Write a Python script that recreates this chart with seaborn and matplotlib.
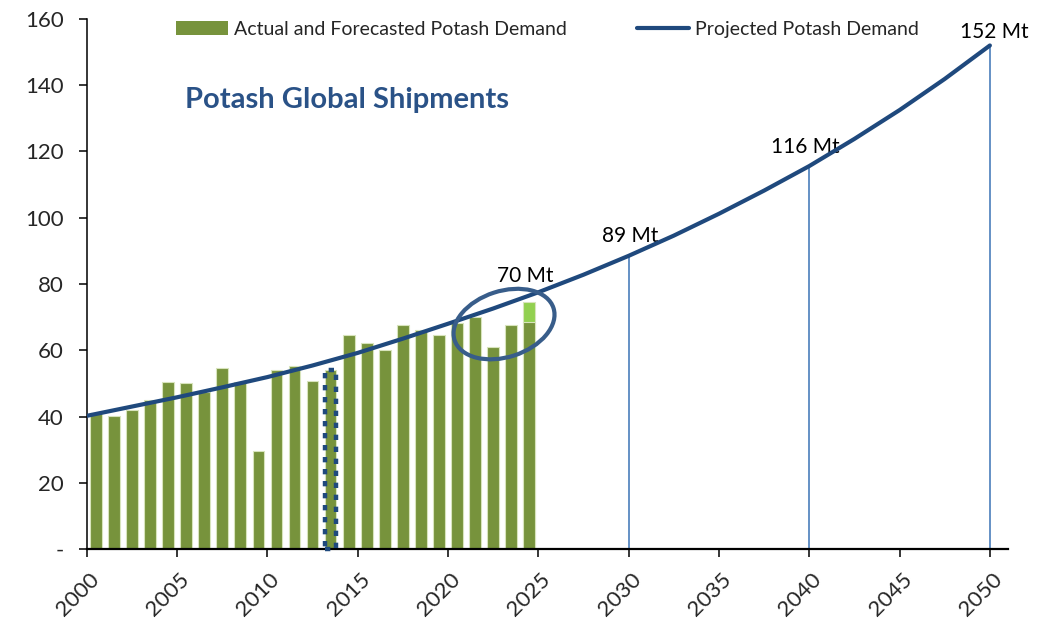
import numpy as np
import matplotlib.pyplot as plt
import matplotlib.transforms as mtransforms
from matplotlib.patches import Ellipse, Patch
from matplotlib.lines import Line2D
import seaborn as sns

# Actual and forecasted potash demand (Mt), one bar per year
bar_years = np.arange(2000, 2025)
bar_values = [41.0, 40.2, 42.0, 45.1, 50.5, 50.0, 47.5, 54.5, 50.5, 29.5,
              54.0, 55.1, 50.6, 54.0, 64.6, 62.1, 60.1, 67.6, 66.1, 64.6,
              68.1, 70.1, 61.1, 67.6, 68.6]
# upper end of the latest forecast (light green cap)
upside_years = np.array([2024])
upside_values = [74.7]
# year highlighted with the dotted box
highlight_years = np.array([2013])
highlight_values = [54.0]

# Projected demand curve, read every 2.5 years
proj_years = [2000, 2002.5, 2005, 2007.5, 2010, 2012.5, 2015, 2017.5, 2020,
              2022.5, 2025, 2027.5, 2030, 2032.5, 2035, 2037.5, 2040,
              2042.5, 2045, 2047.5, 2050]
proj_values = [40.2, 43.0, 45.8, 48.8, 51.9, 55.4, 59.2, 63.5, 68.0,
               72.6, 77.5, 82.8, 88.5, 94.6, 101.2, 108.2, 115.6,
               123.8, 132.5, 141.9, 152.0]

# milestone drop lines
marker_years = [2030, 2040, 2050]
marker_values = [88.5, 115.6, 152.0]
milestone_labels = ['70 Mt', '89 Mt', '116 Mt', '152 Mt']

y_ticks = [0, 20, 40, 60, 80, 100, 120, 140, 160]
y_ticklabels = ['-', '20', '40', '60', '80', '100', '120', '140', '160']
x_ticks = list(range(2000, 2051, 5))

GREEN = '#77933c'
LIGHT_GREEN = '#92d050'
NAVY = '#1f497d'
DROP = '#4a7ebb'
CIRCLE = '#385d8a'
TITLE = '#2a5287'

sns.set_style('ticks')
plt.rcParams['font.family'] = ['Lato', 'DejaVu Sans']

fig = plt.figure(figsize=(10.61, 6.2), dpi=100)
ax = fig.add_axes([0.0818, 0.1145, 0.8682, 0.8549])

# bars sit between the year ticks (Excel date axis style)
ax.bar(upside_years + 0.5, upside_values, width=0.65, color=LIGHT_GREEN,
       edgecolor='#d8e4bc', linewidth=0.8, zorder=1)
sns.barplot(x=bar_years + 0.5, y=bar_values, native_scale=True, width=0.65,
            color=GREEN, saturation=1, edgecolor='#d8e4bc', linewidth=0.8,
            errorbar=None, ax=ax, zorder=2)
ax.bar(highlight_years + 0.5, highlight_values, width=0.65, fill=False,
       edgecolor=NAVY, linewidth=3.2, linestyle=(0, (1.2, 1.5)),
       zorder=3, clip_on=False)

ax.vlines(marker_years, 0, marker_values, color=DROP, linewidth=1.2, zorder=2)
sns.lineplot(x=proj_years, y=proj_values, color=NAVY, linewidth=3,
             solid_capstyle='round', solid_joinstyle='round', ax=ax, zorder=4)

for txt, lx, ly in zip(milestone_labels,
                       [2024.25, 2030.1, 2039.8, 2050.25],
                       [80.7, 92.8, 119.6, 154.2]):
    ax.text(lx, ly, txt, ha='center', va='baseline', fontsize=15, color='black')

# circle around the recent years
trans = fig.dpi_scale_trans + mtransforms.ScaledTranslation(2023.1, 67.9, ax.transData)
ax.add_patch(Ellipse((0, 0), 1.04, 0.66, angle=18, fill=False,
                     edgecolor=CIRCLE, linewidth=3, transform=trans, zorder=5))

ax.text(0.1066, 0.8315, 'Potash Global Shipments', transform=ax.transAxes,
        ha='left', va='baseline', fontsize=21, fontweight='bold', color=TITLE)

handles = [Patch(facecolor=GREEN, edgecolor='none'),
           Line2D([0], [0], color=NAVY, linewidth=3)]
ax.legend(handles, ['Actual and Forecasted Potash Demand', 'Projected Potash Demand'],
          loc='upper center', bbox_to_anchor=(0.5, 1.03), ncol=2, frameon=False,
          fontsize=14, handlelength=2.7, handletextpad=0.3, columnspacing=3.6)

ax.set_xlim(2000, 2051)
ax.set_ylim(0, 160)
ax.set_yticks(y_ticks)
ax.set_yticklabels(y_ticklabels, fontsize=16)
ax.set_xticks(x_ticks)
ax.set_xticklabels([str(x) for x in x_ticks], fontsize=16, rotation=45, ha='center')
ax.tick_params(axis='y', length=5.5, width=1.1, pad=11, color='black')
ax.tick_params(axis='x', length=5.5, width=1.1, pad=9, color='black')
offset = mtransforms.ScaledTranslation(-0.09, 0, fig.dpi_scale_trans)
for lab in ax.get_xticklabels():
    lab.set_transform(lab.get_transform() + offset)

sns.despine(ax=ax)
ax.spines['left'].set_linewidth(1.1)
ax.spines['bottom'].set_linewidth(1.6)
ax.spines['left'].set_color('black')
ax.spines['bottom'].set_color('black')
ax.set_xlabel('')
ax.set_ylabel('')

fig.savefig('out.png', dpi=100)
